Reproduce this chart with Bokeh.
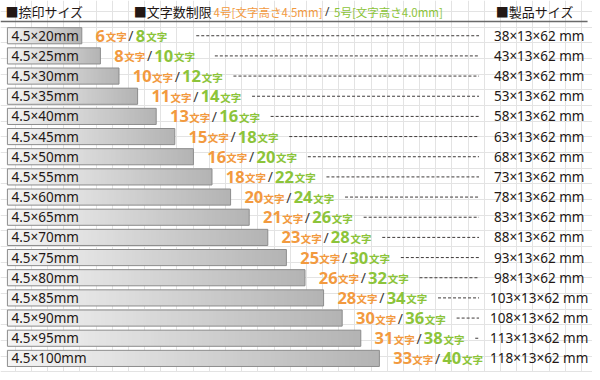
import numpy as np
from bokeh.plotting import figure
from bokeh.models import Range1d, ColumnDataSource, Grid, FixedTicker
from bokeh.core.properties import value
from bokeh.embed import file_html
from bokeh.resources import INLINE

# ---------------- data ----------------
stamp_sizes = ["4.5×20mm", "4.5×25mm", "4.5×30mm", "4.5×35mm", "4.5×40mm", "4.5×45mm",
               "4.5×50mm", "4.5×55mm", "4.5×60mm", "4.5×65mm", "4.5×70mm", "4.5×75mm",
               "4.5×80mm", "4.5×85mm", "4.5×90mm", "4.5×95mm", "4.5×100mm"]
stamp_length_mm = [20, 25, 30, 35, 40, 45, 50, 55, 60, 65, 70, 75, 80, 85, 90, 95, 100]
chars_no4 = [6, 8, 10, 11, 13, 15, 16, 18, 20, 21, 23, 25, 26, 28, 30, 31, 33]
chars_no5 = [8, 10, 12, 14, 16, 18, 20, 22, 24, 26, 28, 30, 32, 34, 36, 38, 40]
product_sizes = ["38×13×62 mm", "43×13×62 mm", "48×13×62 mm", "53×13×62 mm", "58×13×62 mm",
                 "63×13×62 mm", "68×13×62 mm", "73×13×62 mm", "78×13×62 mm", "83×13×62 mm",
                 "88×13×62 mm", "93×13×62 mm", "98×13×62 mm", "103×13×62 mm", "108×13×62 mm",
                 "113×13×62 mm", "118×13×62 mm"]
header_stamp = "■捺印サイズ"
header_chars = "■文字数制限"
header_no4 = "4号[文字高さ4.5mm]"
header_no5 = "5号[文字高さ4.0mm]"
header_product = "■製品サイズ"
unit_label = "文字"

# ---------------- layout ----------------
W, H = 592, 372
REF_W, REF_H = 600, 380
SX = W / REF_W
PX_PER_MM = 3.77     # reference pixels per mm
X0 = 7.0             # reference pixel of 0 mm
ROW0, PITCH = 36.0, 20.6


def X(rx):
    return (rx - X0) / PX_PER_MM


def Y(ry):
    return (ry - ROW0) / PITCH


ORANGE = "#f29a3f"
GREEN = "#8cc43a"
DARK = "#231815"
SLASH = "#3e3a39"
CJK = value("Noto Sans CJK JP")
LATIN = value("Noto Sans")

p = figure(width=W, height=H, x_range=Range1d(X(0), X(REF_W)), y_range=Range1d(Y(REF_H), Y(0)),
           output_backend="svg", toolbar_location=None, x_axis_type=None, y_axis_type=None,
           min_border=0, outline_line_color=None, background_fill_color="white",
           border_fill_color="white")

# graph-paper background
xt = [X(14.8 + 16.4 * k) for k in range(37)]
yt = [Y(11.3 + 16.0 * k) for k in range(24)]
p.add_layout(Grid(dimension=0, ticker=FixedTicker(ticks=xt), grid_line_color="#e3e3e3", grid_line_width=1))
p.add_layout(Grid(dimension=1, ticker=FixedTicker(ticks=yt), grid_line_color="#e3e3e3", grid_line_width=1))

idx = list(range(len(stamp_sizes)))
BAR_H = 0.8

# gradient bars
N = 96
grad = np.empty((1, N), dtype=np.uint32)
v = grad.view(dtype=np.uint8).reshape((1, N, 4))
t = np.linspace(0, 1, N)
g = (245 - (245 - 180) * t).astype(np.uint8)
v[0, :, 0] = g
v[0, :, 1] = g
v[0, :, 2] = g
v[0, :, 3] = 255
p.image_rgba(image=[grad] * len(idx), x=[0] * len(idx), y=[i - BAR_H / 2 for i in idx],
             dw=stamp_length_mm, dh=[BAR_H] * len(idx))
p.hbar(y=idx, left=0, right=stamp_length_mm, height=BAR_H, fill_color=None,
       line_color="#8c8c8c", line_width=1)

# bar labels
p.text(x=[0] * len(idx), y=idx, text=stamp_sizes, x_offset=4, text_baseline="middle",
       text_font=LATIN, text_font_size="13.5px", text_color=DARK)

# character-count labels
DIG = 9.2
num_src = dict(x=[], y=[], t=[], c=[], o=[])
cjk_src = dict(x=[], y=[], t=[], c=[], o=[])
sl_src = dict(x=[], y=[], t=[], o=[])
for i, L, n4, n5 in zip(idx, stamp_length_mm, chars_no4, chars_no5):
    w1 = DIG * len(str(n4))
    w2 = DIG * len(str(n5))
    o1 = 14.0
    o2 = o1 + w1 + 1.0
    o3 = o2 + 23.0
    o4 = o3 + 7.5
    o5 = o4 + w2 + 1.5
    for txt, col, off in ((str(n4), ORANGE, o1), (str(n5), GREEN, o4)):
        num_src["x"].append(L); num_src["y"].append(i); num_src["t"].append(txt)
        num_src["c"].append(col); num_src["o"].append(off * SX)
    for col, off in ((ORANGE, o2), (GREEN, o5)):
        cjk_src["x"].append(L); cjk_src["y"].append(i); cjk_src["t"].append(unit_label)
        cjk_src["c"].append(col); cjk_src["o"].append(off * SX)
    sl_src["x"].append(L); sl_src["y"].append(i); sl_src["t"].append("/"); sl_src["o"].append(o3 * SX)

p.text(x="x", y="y", text="t", text_color="c", x_offset="o", source=ColumnDataSource(num_src),
       text_baseline="middle", text_font=LATIN, text_font_size="16.5px", text_font_style="bold")
p.text(x="x", y="y", text="t", text_color="c", x_offset="o", y_offset=1, source=ColumnDataSource(cjk_src),
       text_baseline="middle", text_font=CJK, text_font_size="10.5px", text_font_style="bold")
p.text(x="x", y="y", text="t", x_offset="o", source=ColumnDataSource(sl_src),
       text_baseline="middle", text_font=LATIN, text_font_size="14px", text_color=SLASH)

# dashed leaders
DASH_GAP_MM = 116 / PX_PER_MM
dash_end = X(485)
d_x0, d_y = [], []
for i, L in zip(idx, stamp_length_mm):
    if L + DASH_GAP_MM < dash_end:
        d_x0.append(L + DASH_GAP_MM)
        d_y.append(i)
p.segment(x0=d_x0, y0=d_y, x1=[dash_end] * len(d_x0), y1=d_y, line_color="#3e3a39",
          line_width=1, line_dash="3 2")

# product sizes
p.text(x=[X(546)] * len(idx), y=idx, text=product_sizes, text_align="center", text_baseline="middle",
       text_font=LATIN, text_font_size="13.5px", text_color=DARK)

# header
hy = Y(11.5)
p.text(x=[X(5), X(135), X(502)], y=[hy] * 3, text=[header_stamp, header_chars, header_product],
       text_baseline="middle", text_font=CJK, text_font_size="13px", text_color=DARK)
p.text(x=[X(216)], y=[hy], text=[header_no4], text_baseline="middle", text_font=CJK,
       text_font_size="11.5px", text_color=ORANGE)
p.text(x=[X(329)], y=[hy], text=["/"], text_baseline="middle", text_font=LATIN,
       text_font_size="12px", text_color=SLASH)
p.text(x=[X(338)], y=[hy], text=[header_no5], text_baseline="middle", text_font=CJK,
       text_font_size="11.5px", text_color=GREEN)
p.segment(x0=[X(0)], y0=[Y(21.5)], x1=[X(595)], y1=[Y(21.5)], line_color="#6a6a6a", line_width=1.5)

open("out.html", "w").write(file_html(p, INLINE))
